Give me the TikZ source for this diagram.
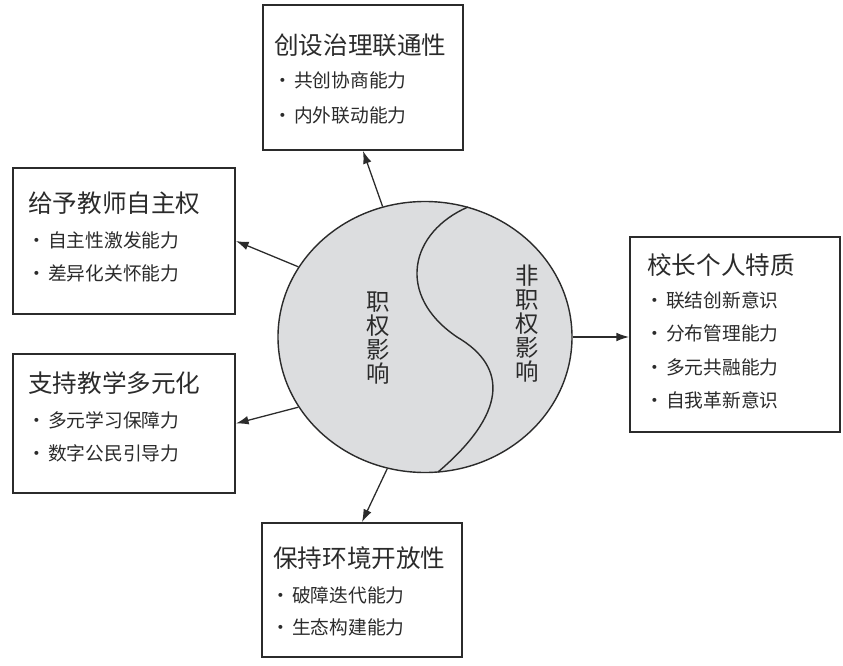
\documentclass[tikz,border=0pt]{standalone}
\usepackage{fontspec}
\setmainfont{Noto Sans CJK SC}
\usepackage{xcolor,tikz}
\usetikzlibrary{arrows.meta,positioning,shapes.geometric}
\definecolor{ink}{HTML}{2B2B2B}
\definecolor{disc}{HTML}{DCDDDF}
\newcommand\bul{\makebox[0pt]{·}\hspace{3.3mm}}
\tikzset{box/.style={draw=ink,line width=1.6pt,fill=white,inner sep=0pt},
  head/.style={anchor=west,inner sep=0pt,text=ink,font=\fontsize{21}{24}\selectfont},
  item/.style={anchor=west,inner sep=0pt,text=ink,font=\fontsize{16}{19}\selectfont},
  side/.style={align=center,inner sep=0pt,text=ink,font=\fontsize{20}{20.5}\selectfont},
  arrow/.style={-{Latex[length=3.8mm,width=2.6mm]},line width=1.1pt,draw=ink}}

\begin{document}
\begin{tikzpicture}[x=0.3mm,y=-0.3mm]
\useasboundingbox (0,0) rectangle (843,666);
% central disc
\node[ellipse,draw=ink,line width=1.2pt,fill=disc,minimum width=88.2mm,
  minimum height=81.3mm,inner sep=0pt] (core) at (425,337) {};
\draw[ink,line width=1.2pt] (468,207) .. controls (410,232) and (395,295) .. (457,337)
  .. controls (510,368) and (505,415) .. (438,472);
\node[side] (duty) at (378,338) {职\\权\\影\\响};
\node[side] (nonduty) at (527,324) {非\\职\\权\\影\\响};
% boxes
\node[box,minimum width=60mm,minimum height=43.5mm] (govern) at (363,77.5) {};
\node[head] (govern-t) at (274,45) {创设治理联通性};
\foreach \txt/\y [count=\i] in {共创协商能力/80,内外联动能力/115}
  \node[item] (govern-\i) at (283,\y) {\bul\txt};
\node[box,minimum width=66.6mm,minimum height=43.8mm] (autonomy) at (124,241) {};
\node[head] (autonomy-t) at (28,203) {给予教师自主权};
\foreach \txt/\y [count=\i] in {自主性激发能力/240,差异化关怀能力/273}
  \node[item] (autonomy-\i) at (37,\y) {\bul\txt};
\node[box,minimum width=66.6mm,minimum height=41.7mm] (diverse) at (124,423.5) {};
\node[head] (diverse-t) at (28,383) {支持教学多元化};
\foreach \txt/\y [count=\i] in {多元学习保障力/420,数字公民引导力/453}
  \node[item] (diverse-\i) at (37,\y) {\bul\txt};
\node[box,minimum width=60mm,minimum height=40.2mm] (open) at (362,590) {};
\node[head] (open-t) at (273,558) {保持环境开放性};
\foreach \txt/\y [count=\i] in {破障迭代能力/595,生态构建能力/627}
  \node[item] (open-\i) at (281,\y) {\bul\txt};
\node[box,minimum width=63mm,minimum height=58.5mm] (trait) at (735,334.5) {};
\node[head] (trait-t) at (647,265) {校长个人特质};
\foreach \txt/\y [count=\i] in {联结创新意识/300,分布管理能力/333,多元共融能力/367,自我革新意识/400}
  \node[item] (trait-\i) at (655,\y) {\bul\txt};
% connectors
\draw[arrow] (core.108) -- (govern.south);
\draw[arrow] (core.151) -- (autonomy.east);
\draw[arrow] (core.209) -- (diverse.east);
\draw[arrow] (core.254) -- (open.north);
\draw[arrow] (core.east) -- (core.east -| trait.west);
\end{tikzpicture}
\end{document}
